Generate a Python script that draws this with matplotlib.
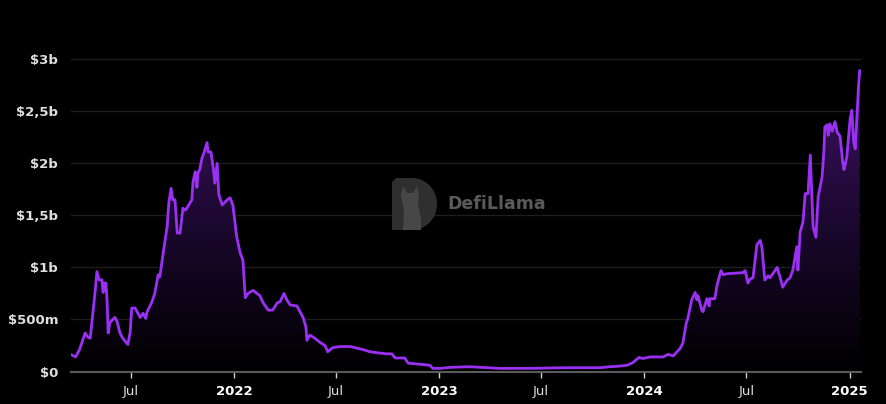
import matplotlib
matplotlib.use("Agg")
import matplotlib.pyplot as plt
import matplotlib.dates as mdates
from matplotlib.patches import Polygon
import numpy as np
import pandas as pd

# TVL (in $ billions)
dates = [
    "2021-03-18", "2021-03-25", "2021-04-01", "2021-04-11", "2021-04-16", "2021-04-20",
    "2021-04-23", "2021-04-29", "2021-05-02", "2021-05-06", "2021-05-11", "2021-05-13",
    "2021-05-15", "2021-05-18", "2021-05-20", "2021-05-22", "2021-05-25", "2021-06-03",
    "2021-06-07", "2021-06-12", "2021-06-17", "2021-06-26", "2021-06-30", "2021-07-03",
    "2021-07-09", "2021-07-18", "2021-07-23", "2021-07-28", "2021-07-30", "2021-08-08",
    "2021-08-13", "2021-08-19", "2021-08-22", "2021-08-28", "2021-09-04", "2021-09-07",
    "2021-09-11", "2021-09-14", "2021-09-18", "2021-09-22", "2021-09-27", "2021-10-02",
    "2021-10-06", "2021-10-09", "2021-10-18", "2021-10-20", "2021-10-24", "2021-10-27",
    "2021-10-29", "2021-11-01", "2021-11-05", "2021-11-09", "2021-11-14", "2021-11-16",
    "2021-11-21", "2021-11-25", "2021-11-28", "2021-12-02", "2021-12-05", "2021-12-11",
    "2021-12-20", "2021-12-25", "2021-12-30", "2022-01-06", "2022-01-12", "2022-01-17",
    "2022-01-21", "2022-01-26", "2022-01-29", "2022-02-04", "2022-02-11", "2022-02-16",
    "2022-02-22", "2022-03-03", "2022-03-11", "2022-03-19", "2022-03-24", "2022-03-31",
    "2022-04-05", "2022-04-11", "2022-04-23", "2022-05-04", "2022-05-09", "2022-05-11",
    "2022-05-16", "2022-05-25", "2022-06-03", "2022-06-12", "2022-06-17", "2022-06-26",
    "2022-07-09", "2022-07-27", "2022-08-04", "2022-08-19", "2022-08-31", "2022-09-13",
    "2022-09-30", "2022-10-09", "2022-10-15", "2022-11-01", "2022-11-07", "2022-11-28",
    "2022-12-16", "2022-12-21", "2023-01-03", "2023-01-21", "2023-02-25", "2023-04-20",
    "2023-06-12", "2023-08-04", "2023-10-15", "2023-11-01", "2023-11-14", "2023-12-02",
    "2023-12-12", "2023-12-23", "2023-12-30", "2024-01-12", "2024-02-04", "2024-02-13",
    "2024-02-22", "2024-03-05", "2024-03-10", "2024-03-16", "2024-03-19", "2024-03-26",
    "2024-04-01", "2024-04-04", "2024-04-06", "2024-04-13", "2024-04-15", "2024-04-22",
    "2024-04-26", "2024-04-27", "2024-05-06", "2024-05-10", "2024-05-17", "2024-05-21",
    "2024-05-28", "2024-06-25", "2024-06-29", "2024-07-04", "2024-07-08", "2024-07-13",
    "2024-07-20", "2024-07-26", "2024-07-29", "2024-08-03", "2024-08-09", "2024-08-12",
    "2024-08-25", "2024-08-30", "2024-09-04", "2024-09-12", "2024-09-17", "2024-09-22",
    "2024-09-29", "2024-10-01", "2024-10-05", "2024-10-10", "2024-10-14", "2024-10-19",
    "2024-10-23", "2024-10-26", "2024-10-28", "2024-11-02", "2024-11-06", "2024-11-13",
    "2024-11-16", "2024-11-18", "2024-11-22", "2024-11-24", "2024-11-27", "2024-12-01",
    "2024-12-06", "2024-12-10", "2024-12-15", "2024-12-20", "2024-12-22", "2024-12-27",
    "2025-01-02", "2025-01-05", "2025-01-08", "2025-01-11", "2025-01-14", "2025-01-17",
    "2025-01-19",
]
tvl = [
    0.16, 0.14, 0.21, 0.37, 0.33, 0.32,
    0.47, 0.78, 0.96, 0.88, 0.88, 0.76,
    0.85, 0.85, 0.69, 0.37, 0.47, 0.52,
    0.48, 0.37, 0.32, 0.26, 0.37, 0.61,
    0.61, 0.52, 0.56, 0.51, 0.57, 0.67,
    0.75, 0.93, 0.91, 1.14, 1.39, 1.62,
    1.76, 1.65, 1.65, 1.33, 1.33, 1.57,
    1.55, 1.57, 1.65, 1.82, 1.92, 1.77,
    1.91, 1.94, 2.05, 2.11, 2.20, 2.11,
    2.11, 1.96, 1.81, 2.00, 1.70, 1.60,
    1.65, 1.67, 1.60, 1.29, 1.14, 1.07,
    0.71, 0.75, 0.76, 0.78, 0.75, 0.73,
    0.66, 0.59, 0.59, 0.66, 0.67, 0.75,
    0.69, 0.64, 0.63, 0.52, 0.43, 0.30,
    0.35, 0.32, 0.28, 0.25, 0.19, 0.23,
    0.24, 0.24, 0.23, 0.21, 0.19, 0.18,
    0.17, 0.17, 0.13, 0.13, 0.08, 0.07,
    0.06, 0.03, 0.03, 0.04, 0.046, 0.03,
    0.03, 0.036, 0.037, 0.046, 0.05, 0.06,
    0.085, 0.135, 0.125, 0.14, 0.14, 0.165,
    0.15, 0.22, 0.27, 0.46, 0.51, 0.69,
    0.76, 0.69, 0.73, 0.59, 0.575, 0.70,
    0.63, 0.70, 0.70, 0.83, 0.97, 0.93,
    0.94, 0.95, 0.97, 0.85, 0.89, 0.90,
    1.22, 1.26, 1.19, 0.88, 0.92, 0.90,
    1.00, 0.91, 0.81, 0.88, 0.90, 0.975,
    1.20, 0.975, 1.34, 1.44, 1.71, 1.71,
    2.08, 1.68, 1.39, 1.29, 1.68, 1.87,
    2.10, 2.35, 2.37, 2.27, 2.38, 2.31,
    2.40, 2.30, 2.26, 2.00, 1.94, 2.06,
    2.43, 2.51, 2.22, 2.14, 2.45, 2.75,
    2.89,
]

yticks = [0, 0.5, 1, 1.5, 2, 2.5, 3]
ylabels = ["$0", "$500m", "$1b", "$1,5b", "$2b", "$2,5b", "$3b"]
xticks = ["2021-07-01", "2022-01-01", "2022-07-01", "2023-01-01",
          "2023-07-01", "2024-01-01", "2024-07-01", "2025-01-01"]
xlabels = ["Jul", "2022", "Jul", "2023", "Jul", "2024", "Jul", "2025"]

t = pd.to_datetime(dates)
x = mdates.date2num(t)
y = np.array(tvl)

line_col = "#9b30f5"

fig = plt.figure(figsize=(8.86, 4.04), dpi=100, facecolor="black")
ax = fig.add_axes([0.0796, 0.0804, 0.892, 0.7728])
ax.set_facecolor("black")

x0 = mdates.date2num(pd.Timestamp("2021-03-16"))
x1 = mdates.date2num(pd.Timestamp("2025-01-21"))
ax.set_xlim(x0, x1)
ax.set_ylim(0, 3.0)

# grid
for v in yticks[1:]:
    ax.axhline(v, color="#1e1e1e", lw=1, zorder=0)

# gradient fill under the curve
poly = ax.fill_between(x, y, 0, color="none", lw=0)
grad = np.linspace(0, 1, 256).reshape(-1, 1)
cmap = matplotlib.colors.LinearSegmentedColormap.from_list(
    "g", ["#000000", "#1c0830", "#3d1264"])
im = ax.imshow(grad, aspect="auto", cmap=cmap, origin="lower",
               extent=[x0, x1, 0, 2.9], zorder=1)
im.set_clip_path(poly.get_paths()[0], transform=ax.transData)

ax.plot(x, y, color=line_col, lw=2, zorder=3, solid_joinstyle="round")

# axes styling
for s in ["top", "right", "left"]:
    ax.spines[s].set_visible(False)
ax.spines["bottom"].set_color("#5a5a5a")
ax.spines["bottom"].set_linewidth(1.5)

ax.set_yticks(yticks)
ax.set_yticklabels(ylabels)
ax.tick_params(axis="y", length=0, pad=9, labelsize=9.5, labelcolor="#dedede")
ax.set_xticks(mdates.date2num(pd.to_datetime(xticks)))
ax.set_xticklabels(xlabels)
ax.tick_params(axis="x", length=4, width=1, color="#cfcfcf", pad=6,
               labelsize=9.5, labelcolor="#dedede")
for lab in ax.get_xticklabels():
    if lab.get_text() != "Jul":
        lab.set_fontweight("bold")
        lab.set_color("white")
for lab in ax.get_yticklabels():
    lab.set_fontweight("semibold")

# watermark: "D" shaped logo with a llama head, then the name
def fpos(px, py):
    return (px / 886, 1 - py / 404)

ang = np.linspace(np.pi / 2, -np.pi / 2, 40)
d_pts = [fpos(392, 230), fpos(392, 182), fpos(396, 178), fpos(412, 178)]
d_pts += [fpos(412 + 25 * np.cos(a), 204 - 26 * np.sin(a)) for a in ang]
d_pts += [fpos(396, 230)]
fig.patches.append(Polygon(d_pts, closed=True, transform=fig.transFigure,
                           facecolor="#2f2f2f", edgecolor="none", zorder=5))
llama = [(403, 186), (407, 193), (413, 193), (417, 186), (419, 196),
         (418, 205), (421, 218), (421, 230), (403, 230), (404, 210),
         (401, 196)]
fig.patches.append(Polygon([fpos(*p) for p in llama], closed=True,
                           transform=fig.transFigure, facecolor="#474747",
                           edgecolor="none", zorder=6))
fig.text(fpos(447, 204)[0], fpos(447, 204)[1], "DefiLlama", color="#5a5a5a",
         fontsize=12.5, fontweight="bold", va="center", ha="left")

fig.savefig("out.png", dpi=100, facecolor="black")
